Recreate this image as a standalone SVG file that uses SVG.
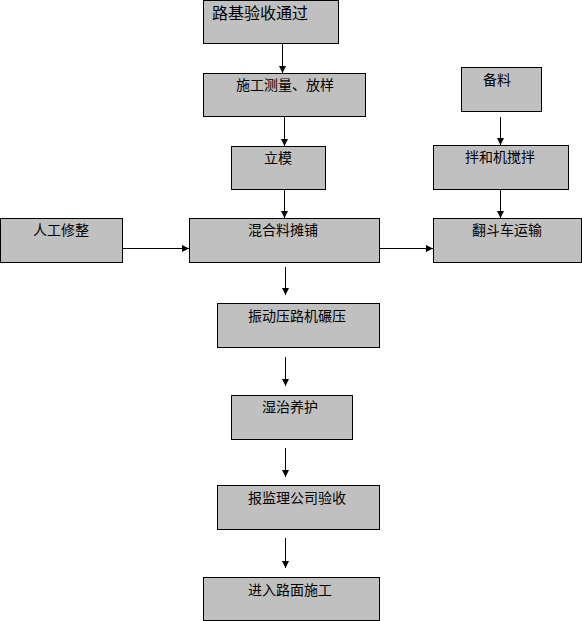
<svg xmlns="http://www.w3.org/2000/svg" width="582" height="621" viewBox="0 0 582 621">
<style>
.box{fill:#C0C0C0;stroke:#000;stroke-width:1}
.t{font-family:"Noto Sans CJK SC","Noto Sans CJK TC",sans-serif;font-size:14px;fill:#000}
.c{stroke:#000;stroke-width:1;fill:none;marker-end:url(#ah)}
</style>
<defs>
<marker id="ah" markerUnits="userSpaceOnUse" markerWidth="8" markerHeight="8" refX="7" refY="4" orient="auto">
<path d="M0,0.5 L7,4 L0,7.5 z" fill="#000"/>
</marker>
</defs>
<rect width="582" height="621" fill="#fff"/>
<g id="n1"><rect class="box" x="203.5" y="0.5" width="135" height="43"/><text class="t" x="212" y="19" style="font-size:16px">路基验收通过</text></g>
<g id="n2"><rect class="box" x="203.5" y="73.5" width="162" height="43"/><text class="t" x="236" y="90">施工测量、放样</text></g>
<g id="n3"><rect class="box" x="231.5" y="146.5" width="94" height="43"/><text class="t" x="264" y="163">立模</text></g>
<g id="n4"><rect class="box" x="461.5" y="67.5" width="80" height="44"/><text class="t" x="483" y="85">备料</text></g>
<g id="n5"><rect class="box" x="433.5" y="145.5" width="135" height="44"/><text class="t" x="465" y="162">拌和机搅拌</text></g>
<g id="n6"><rect class="box" x="0.5" y="218.5" width="122" height="44"/><text class="t" x="33" y="235">人工修整</text></g>
<g id="n7"><rect class="box" x="189.5" y="218.5" width="190" height="44"/><text class="t" x="248" y="235">混合料摊铺</text></g>
<g id="n8"><rect class="box" x="433.5" y="218.5" width="148" height="44"/><text class="t" x="472" y="235">翻斗车运输</text></g>
<g id="n9"><rect class="box" x="217.5" y="303.5" width="162" height="44"/><text class="t" x="248" y="321">振动压路机碾压</text></g>
<g id="n10"><rect class="box" x="231.5" y="395.5" width="121" height="44"/><text class="t" x="262" y="412">湿治养护</text></g>
<g id="n11"><rect class="box" x="217.5" y="485.5" width="162" height="44"/><text class="t" x="248" y="503">报监理公司验收</text></g>
<g id="n12"><rect class="box" x="203.5" y="577.5" width="176" height="43"/><text class="t" x="248" y="595">进入路面施工</text></g>
<g id="connectors">
<line class="c" x1="282.5" y1="44" x2="282.5" y2="73"/>
<line class="c" x1="284.5" y1="117" x2="284.5" y2="146"/>
<line class="c" x1="284.5" y1="190" x2="284.5" y2="218"/>
<line class="c" x1="500.5" y1="117" x2="500.5" y2="145"/>
<line class="c" x1="500.5" y1="190" x2="500.5" y2="218"/>
<line class="c" x1="123" y1="248.5" x2="189" y2="248.5"/>
<line class="c" x1="380" y1="248.5" x2="433" y2="248.5"/>
<line class="c" x1="285.5" y1="267" x2="285.5" y2="295"/>
<line class="c" x1="285.5" y1="357" x2="285.5" y2="386"/>
<line class="c" x1="285.5" y1="448" x2="285.5" y2="477"/>
<line class="c" x1="285.5" y1="538" x2="285.5" y2="568"/>
</g>
</svg>
